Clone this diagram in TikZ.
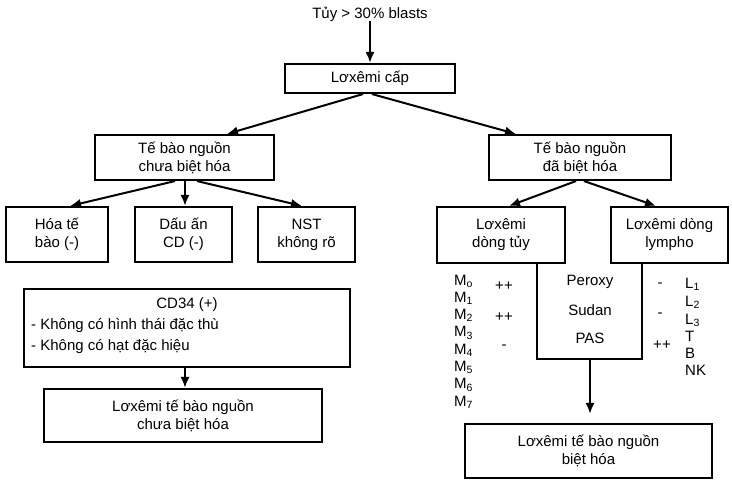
\documentclass[tikz,border=0pt]{standalone}
\usepackage{fontspec}
\setmainfont{Liberation Sans}
\usetikzlibrary{arrows.meta}
\begin{document}
\begin{tikzpicture}[x=1pt,y=-1pt,
  box/.style={draw, line width=2.1pt, inner sep=0pt, align=center, font=\fontsize{15}{18}\selectfont},
  txt/.style={inner sep=0pt, font=\fontsize{15}{18}\selectfont},
  sml/.style={inner sep=0pt, font=\fontsize{15}{17}\selectfont},
  arr/.style={line width=2pt, -{Latex[length=11pt,width=9pt]}}]
\useasboundingbox (0,0) rectangle (732,483);
% top
\node[txt] (top) at (370,14) {Tủy > 30\% blasts};
\node[box, minimum width=170pt, minimum height=29pt] (cap) at (370,78.5) {Lơxêmi cấp};
\node[box, minimum width=179pt, minimum height=45pt] (chua) at (184.5,157.5) {Tế bào nguồn\\chưa biệt hóa};
\node[box, minimum width=182pt, minimum height=45pt] (da) at (580,157.5) {Tế bào nguồn\\đã biệt hóa};
\node[box, minimum width=102pt, minimum height=55pt] (hoa) at (57,234.5) {Hóa tế\\bào (-)};
\node[box, minimum width=97pt, minimum height=55pt] (dau) at (183.5,234.5) {Dấu ấn\\CD (-)};
\node[box, minimum width=97pt, minimum height=55pt] (nst) at (306.5,234.5) {NST\\không rõ};
\node[box, minimum width=128pt, minimum height=56pt] (tuy) at (501,235) {Lơxêmi\\dòng tủy};
\node[box, minimum width=117pt, minimum height=56pt] (lym) at (669.5,235) {Lơxêmi dòng\\lympho};
% CD34 box
\node[box, minimum width=326pt, minimum height=78pt] (cd34) at (187,328) {};
\node[txt] (cdt) at (187,305) {CD34 (+)};
\node[txt, anchor=west] (k1) at (31,326) {- Không có hình thái đặc thù};
\node[txt, anchor=west] (k2) at (31,347) {- Không có hạt đặc hiệu};
\node[box, minimum width=278pt, minimum height=53pt] (lcb) at (183,415.5) {Lơxêmi tế bào nguồn\\chưa biệt hóa};
% Peroxy open box
\draw[line width=2.1pt] (537,263) -- (537,359) -- (642,359) -- (642,263);
\coordinate (perob) at (590,359);
\node[txt] (pero) at (590,282) {Peroxy};
\node[txt] (sud) at (590,310) {Sudan};
\node[txt] (pas) at (590,338) {PAS};
\node[box, minimum width=247pt, minimum height=54pt] (lbh) at (588.5,451) {Lơxêmi tế bào nguồn\\biệt hóa};
% M labels
\foreach \i/\s in {0/o,1/1,2/2,3/3,4/4,5/5,6/6,7/7}
  \node[sml, anchor=base west] (m\i) at (454, {285+17.3*\i}) {M\textsubscript{\s}};
% L labels
\node[sml, anchor=base west] (l1) at (685,288) {L\textsubscript{1}};
\node[sml, anchor=base west] (l2) at (685,306) {L\textsubscript{2}};
\node[sml, anchor=base west] (l3) at (685,324) {L\textsubscript{3}};
\node[sml, anchor=base west] (lt) at (685,341) {T};
\node[sml, anchor=base west] (lb) at (685,358) {B};
\node[sml, anchor=base west] (lnk) at (685,375) {NK};
% plus/minus marks
\node[sml] (p0) at (504,286) {++};
\node[sml] (p2) at (504,317) {++};
\node[sml] (p4) at (504,347) {-};
\node[sml] (q1) at (660,285) {-};
\node[sml] (q3) at (660,315) {-};
\node[sml] (qt) at (662,345) {++};
% arrows
\draw[arr] (top.south) -- (cap.north);
\draw[arr] (cap.south -| 363,0) -- (chua.north -| 227,0);
\draw[arr] (cap.south -| 372,0) -- (da.north -| 516,0);
\draw[arr] (chua.south -| 175,0) -- (hoa.north -| 70,0);
\draw[arr] (chua.south -| 185,0) -- (dau.north -| 185,0);
\draw[arr] (chua.south -| 197,0) -- (nst.north -| 302,0);
\draw[arr] (da.south -| 576,0) -- (tuy.north -| 509,0);
\draw[arr] (da.south -| 584,0) -- (lym.north -| 656,0);
\draw[arr] (cd34.south -| 185,0) -- (lcb.north -| 185,0);
\draw[arr, shorten >=9pt] (perob) -- (lbh.north -| perob);
\end{tikzpicture}
\end{document}
